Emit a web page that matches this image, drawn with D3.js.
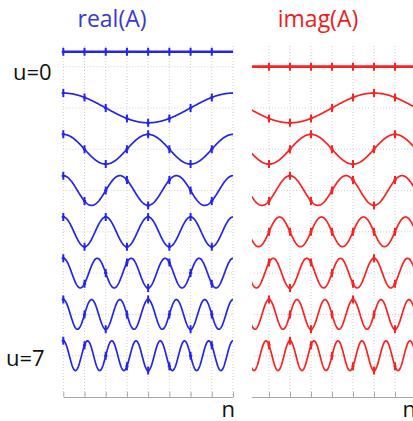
<!DOCTYPE html>
<html>
<head>
<meta charset="utf-8">
<script src="https://cdn.jsdelivr.net/npm/d3@7"></script>
<style>
  html, body { margin: 0; padding: 0; background: #fff; }
  svg { display: block; font-family: "Open Sans", "DejaVu Sans", sans-serif; }
</style>
</head>
<body>
<svg id="chart" width="413" height="421"></svg>
<script>
// ---- data ----
const N = 8;                                   // DFT length
const uValues = [0, 1, 2, 3, 4, 5, 6, 7];      // frequency index, one row each
const nSamples = [0, 1, 2, 3, 4, 5, 6, 7];     // sample index (markers)
const nTicks = [0, 1, 2, 3, 4, 5, 6, 7, 8];    // x grid / ticks
const panelTitles = ["real(A)", "imag(A)"];
const rowLabels = ["u=0", "u=7"];
const axisLabel = "n";

// DFT basis A(u,n) = exp(-j 2 pi u n / N)
const basisReal = (u, t) => Math.cos(2 * Math.PI * u * t / N);
const basisImag = (u, t) => -Math.sin(2 * Math.PI * u * t / N);

const svg = d3.select("#chart");
const amp = 0.36;        // row half-height in row units
const yTop = 46, yBottom = 397;
const y = d3.scaleLinear().domain([-0.5, 8]).range([yTop, yBottom]);

const panels = [
  { fn: basisReal, color: "#2424f2", title: panelTitles[0], titleColor: "#3a3ad2",
    x: d3.scaleLinear().domain([0, 8]).range([63.3, 233]), clipLeft: 55, titleX: 112, nX: 221.5 },
  { fn: basisImag, color: "#ff2020", title: panelTitles[1], titleColor: "#ee1c1c",
    x: d3.scaleLinear().domain([0, 8]).range([248, 416]), clipLeft: 252, titleX: 318, nX: 402.5 }
];

const defs = svg.append("defs");

panels.forEach((p, i) => {
  const x = p.x;
  const [x0, x1] = x.range();
  defs.append("clipPath").attr("id", "clip" + i)
    .append("rect").attr("x", p.clipLeft).attr("y", 0)
    .attr("width", Math.min(x1, 413) - p.clipLeft + 4).attr("height", 421);

  const g = svg.append("g").attr("clip-path", `url(#clip${i})`);

  // vertical dotted grid
  g.append("g").selectAll("line").data(nTicks).join("line")
    .attr("x1", d => x(d)).attr("x2", d => x(d))
    .attr("y1", yTop).attr("y2", yBottom)
    .attr("stroke", "#cfcfcf").attr("stroke-width", 1)
    .attr("stroke-dasharray", "1,2");

  // horizontal dotted grid at row centres
  g.append("g").selectAll("line").data(uValues).join("line")
    .attr("x1", x0).attr("x2", x1)
    .attr("y1", d => y(d)).attr("y2", d => y(d))
    .attr("stroke", "#cfcfcf").attr("stroke-width", 1)
    .attr("stroke-dasharray", "1,2");

  // bottom axis with inward ticks
  const axis = d3.axisBottom(x).tickValues(nTicks).tickFormat("")
    .tickSizeInner(-5).tickSizeOuter(0);
  const ag = g.append("g").attr("transform", `translate(0,${yBottom})`).call(axis);
  ag.select(".domain").attr("stroke", "#a8a8a8");
  ag.selectAll(".tick line").attr("stroke", "#a8a8a8");

  // curves
  const tFine = d3.range(0, 8 + 1e-9, 0.02);
  uValues.forEach(u => {
    const line = d3.line()
      .x(t => x(t))
      .y(t => y(u - amp * p.fn(u, t)))
      .curve(d3.curveLinear);
    g.append("path").datum(tFine)
      .attr("d", line)
      .attr("fill", "none")
      .attr("stroke", p.color)
      .attr("stroke-width", u === 0 ? 2.6 : 1.7)
      .attr("stroke-linejoin", "round");

    g.append("g").selectAll("path").data(nSamples).join("path")
      .attr("transform", n => `translate(${x(n)},${y(u - amp * p.fn(u, n))})`)
      .attr("d", "M0,-4V4M-1.6,0H1.6")
      .attr("fill", "none")
      .attr("stroke", p.color)
      .attr("stroke-width", 2);
  });

  // title
  svg.append("text").attr("x", p.titleX).attr("y", 27)
    .attr("text-anchor", "middle")
    .attr("font-size", 23).attr("fill", p.titleColor)
    .text(p.title);

  // axis label
  svg.append("text").attr("x", p.nX).attr("y", 417)
    .attr("font-size", 22).attr("fill", "#111")
    .text(axisLabel);
});

// row labels
svg.append("text").attr("x", 13).attr("y", 80)
  .attr("font-size", 22).attr("fill", "#111").text(rowLabels[0]);
svg.append("text").attr("x", 6).attr("y", 366)
  .attr("font-size", 22).attr("fill", "#111").text(rowLabels[1]);
</script>
</body>
</html>
